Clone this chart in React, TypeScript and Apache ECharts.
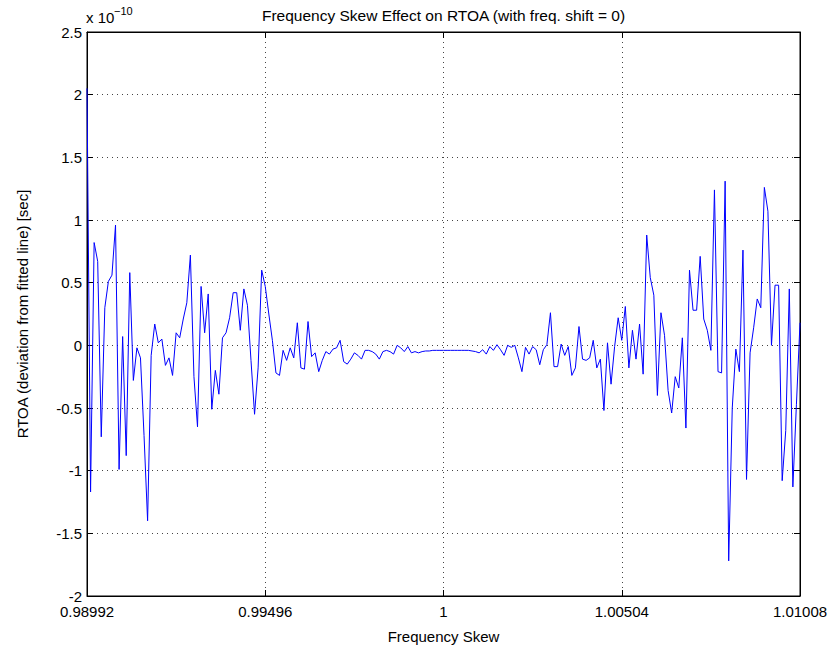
import React, { useEffect, useRef } from "react";
import * as echarts from "echarts";

const SKEW_START = 0.98992;
const SKEW_STEP = 0.0001008;

// RTOA deviation values, in units of 1e-10 sec
const rtoa: number[] = [
  2.05, -1.17, 0.82, 0.67, -0.73, 0.30, 0.51, 0.56, 0.96, -0.99,
  0.07, -0.88, 0.58, -0.28, -0.02, -0.10, -0.72, -1.40, -0.08, 0.17,
  0.02, 0.05, -0.16, -0.10, -0.24, 0.10, 0.06, 0.21, 0.34, 0.72,
  -0.25, -0.65, 0.47, 0.10, 0.41, -0.51, -0.20, -0.39, 0.06, 0.10,
  0.22, 0.42, 0.42, 0.12, 0.45, 0.32, -0.12, -0.55, -0.18, 0.60,
  0.47, 0.25, 0.04, -0.22, -0.24, -0.04, -0.12, -0.02, -0.10, 0.18,
  -0.18, -0.19, 0.19, -0.09, -0.06, -0.21, -0.12, -0.05, -0.07, -0.03,
  -0.02, 0.04, -0.13, -0.15, -0.11, -0.06, -0.08, -0.11, -0.04, -0.04,
  -0.05, -0.07, -0.11, -0.05, -0.04, -0.05, -0.07, 0.0, -0.02, -0.05,
  -0.01, -0.06, -0.05, -0.06, -0.05, -0.045, -0.045, -0.04, -0.04, -0.04,
  -0.04, -0.04, -0.04, -0.04, -0.04, -0.04, -0.04, -0.04, -0.045, -0.05,
  -0.06, -0.035, -0.07, -0.01, -0.04, 0.005, -0.035, -0.08, 0.0, -0.016,
  0.0, -0.10, -0.21, -0.016, -0.07, -0.01, -0.035, -0.155, -0.035, 0.005,
  0.26, -0.17, -0.17, 0.01, -0.08, -0.01, -0.24, -0.18, 0.15, -0.11,
  -0.12, -0.10, 0.04, -0.18, -0.11, -0.52, 0.02, -0.31, -0.01, 0.22,
  0.04, 0.31, -0.18, 0.12, -0.11, 0.17, -0.23, 0.88, 0.54, 0.40,
  -0.40, 0.26, 0.08, -0.36, -0.54, -0.25, -0.34, 0.06, -0.66, 0.60,
  0.28, 0.28, 0.71, 0.21, 0.12, -0.04, 1.24, -0.21, -0.22, 1.31,
  -1.72, -0.50, -0.03, -0.21, 0.76, -1.07, -0.06, 0.14, 0.37, 0.30,
  1.26, 1.07, 0.0, 0.48, 0.48, -1.08, -0.68, 0.45, -1.13, -0.47,
  0.18,
];

const skew: number[] = rtoa.map((_, i) => SKEW_START + i * SKEW_STEP);

const xTickLabels = ["0.98992", "0.99496", "1", "1.00504", "1.01008"];
const X_TICK_INTERVAL = 504; // in 1e-5 units of skew offset
const X_SPAN = 2016;

const FONT = "Liberation Sans, Arial, Helvetica, sans-serif";
const FS = 15;

export default function App() {
  const ref = useRef<HTMLDivElement>(null);

  useEffect(() => {
    if (!ref.current) return;
    const chart = echarts.init(ref.current, undefined, { renderer: "svg" });

    const data = skew.map((s, i) => [Math.round((s - SKEW_START) * 1e5 * 1000) / 1000, rtoa[i]]);

    const tickStyle = { show: true, inside: true, length: 6, lineStyle: { color: "#000", width: 1 } };
    const splitStyle = { show: true, lineStyle: { color: "#444", width: 1, type: [1, 4] as any } };

    chart.setOption({
      animation: false,
      backgroundColor: "#fff",
      grid: {
        left: 87,
        top: 32,
        width: 713,
        height: 564,
        show: true,
        borderColor: "#000",
        borderWidth: 1,
        backgroundColor: "#fff",
      },
      xAxis: [
        {
          type: "value",
          min: 0,
          max: X_SPAN,
          interval: X_TICK_INTERVAL,
          position: "bottom",
          axisLine: { show: true, onZero: false, lineStyle: { color: "#000", width: 1 } },
          axisTick: tickStyle,
          splitLine: splitStyle,
          axisLabel: {
            color: "#000",
            fontSize: FS,
            fontFamily: FONT,
            margin: 8,
            formatter: (v: number) => xTickLabels[Math.round(v / X_TICK_INTERVAL)] ?? "",
          },
          name: "Frequency Skew",
          nameLocation: "middle",
          nameGap: 33,
          nameTextStyle: { color: "#000", fontSize: FS, fontFamily: FONT },
        },
        {
          type: "value",
          min: 0,
          max: X_SPAN,
          interval: X_TICK_INTERVAL,
          position: "top",
          axisLine: { show: true, onZero: false, lineStyle: { color: "#000", width: 1 } },
          axisTick: tickStyle,
          splitLine: { show: false },
          axisLabel: { show: false },
        },
      ],
      yAxis: [
        {
          type: "value",
          min: -2,
          max: 2.5,
          interval: 0.5,
          position: "left",
          axisLine: { show: true, onZero: false, lineStyle: { color: "#000", width: 1 } },
          axisTick: tickStyle,
          splitLine: splitStyle,
          axisLabel: { color: "#000", fontSize: FS, fontFamily: FONT, margin: 5 },
          name: "RTOA (deviation from fitted line) [sec]",
          nameLocation: "middle",
          nameGap: 57,
          nameRotate: 90,
          nameTextStyle: { color: "#000", fontSize: FS, fontFamily: FONT },
        },
        {
          type: "value",
          min: -2,
          max: 2.5,
          interval: 0.5,
          position: "right",
          axisLine: { show: true, onZero: false, lineStyle: { color: "#000", width: 1 } },
          axisTick: tickStyle,
          splitLine: { show: false },
          axisLabel: { show: false },
        },
      ],
      series: [
        {
          type: "line",
          xAxisIndex: 0,
          yAxisIndex: 0,
          data,
          showSymbol: false,
          symbol: "none",
          lineStyle: { color: "#0000ff", width: 1 },
          itemStyle: { color: "#0000ff" },
        },
      ],
      graphic: [
        {
          type: "text",
          x: 443.5,
          y: 7,
          style: {
            text: "Frequency Skew Effect on RTOA (with freq. shift = 0)",
            fill: "#000",
            font: `15.5px ${FONT}`,
            textAlign: "center",
            textVerticalAlign: "top",
          },
        },
        {
          type: "text",
          x: 86,
          y: 10,
          style: { text: "x 10", fill: "#000", font: `15px ${FONT}`, textVerticalAlign: "top" },
        },
        {
          type: "text",
          x: 114,
          y: 5,
          style: { text: "\u221210", fill: "#000", font: `11px ${FONT}`, textVerticalAlign: "top" },
        },
      ],
    });

    return () => chart.dispose();
  }, []);

  return (
    <div
      ref={ref}
      style={{ position: "fixed", left: 0, top: 0, width: 834, height: 655, background: "#fff" }}
    />
  );
}
